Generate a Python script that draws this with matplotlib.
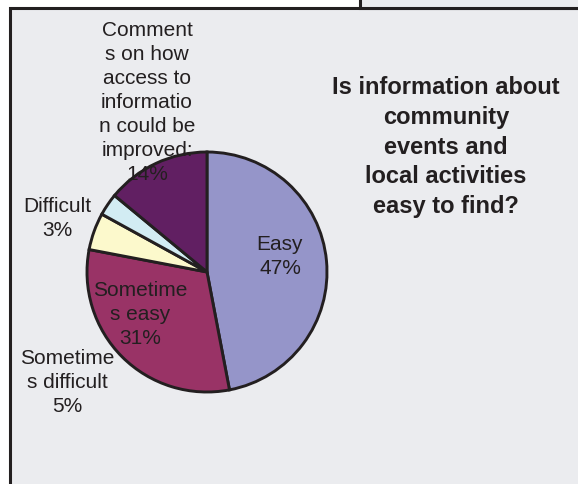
import matplotlib.pyplot as plt
from matplotlib.patches import Rectangle

plt.rcParams['font.family'] = ['Liberation Sans', 'DejaVu Sans']

# data
categories = ["Easy", "Sometime\ns easy", "Sometime\ns difficult", "Difficult",
              "Comment\ns on how\naccess to\ninformatio\nn could be\nimproved:"]
values = [47, 31, 5, 3, 14]
colors = ['#9595c9', '#993366', '#fcf9cc', '#d2ecf3', '#611f62']
title_lines = ["Is information about", "community", "events and",
               "local activities", "easy to find?"]

# label centres in pixel space (x, y from bottom)
label_pos = [(280, 228), (140, 170), (67, 102), (57, 265), (147, 382)]

INK = '#231f20'
BG = '#ebecef'


def draw_lines(ax, x, yc, lines, step, **kw):
    n = len(lines)
    y0 = yc + step * (n - 1) / 2
    for i, line in enumerate(lines):
        ax.text(x, y0 - i * step, line, ha='center', va='center', color=INK, **kw)


fig = plt.figure(figsize=(5.78, 4.84), dpi=100, facecolor='white')
ax = fig.add_axes([0, 0, 1, 1])

# panel frames
ax.add_patch(Rectangle((10, -10), 620, 486.5, facecolor=BG, edgecolor=INK, lw=2.2, zorder=0))
ax.add_patch(Rectangle((360, 476.5), 300, 30, facecolor=BG, edgecolor=INK, lw=2.2, zorder=0))

ax.pie(values, colors=colors, startangle=90, counterclock=False,
       center=(207, 212), radius=120, frame=False,
       wedgeprops=dict(edgecolor=INK, linewidth=2.1))

for cat, val, (x, y) in zip(categories, values, label_pos):
    lines = cat.split("\n") + [f"{val}%"]
    draw_lines(ax, x, y, lines, 24, fontsize=15)

draw_lines(ax, 446, 337, title_lines, 29.7, fontsize=17, fontweight='bold')

ax.set_xlim(0, 578)
ax.set_ylim(0, 484)
ax.set_aspect('auto')
ax.axis('off')

fig.savefig('out.png', dpi=100, facecolor='white')
